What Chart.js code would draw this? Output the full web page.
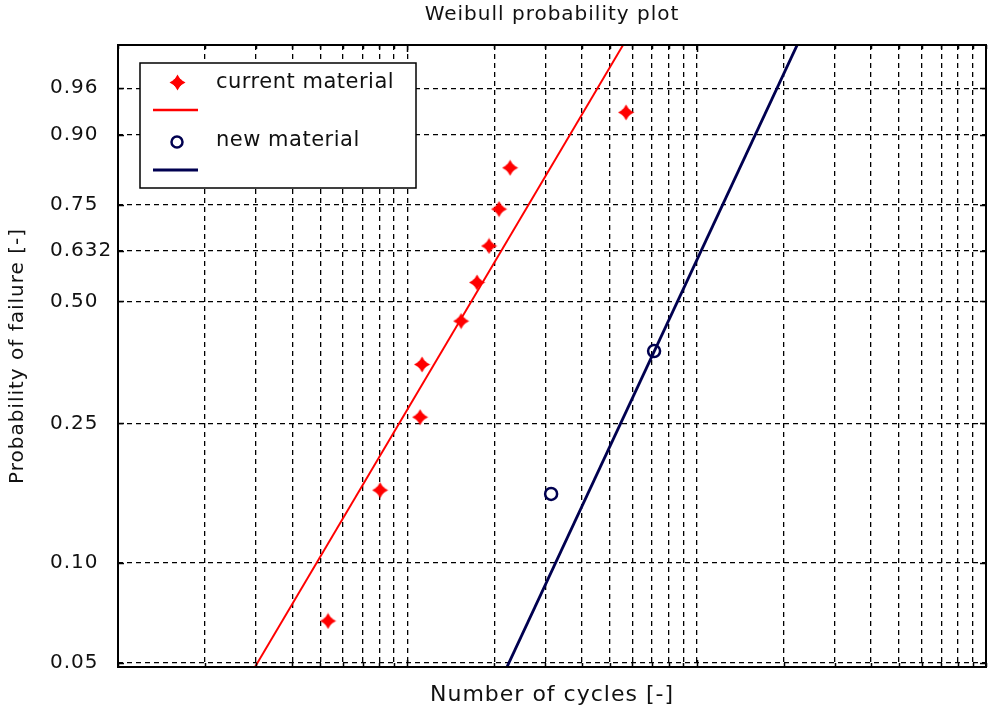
<!DOCTYPE html>
<html>
<head>
<meta charset="utf-8">
<title>Weibull probability plot</title>
<script src="https://cdn.jsdelivr.net/npm/chart.js@4/dist/chart.umd.min.js"></script>
<style>
  html, body { margin: 0; padding: 0; background: #fff; }
  #wrap { width: 988px; height: 713px; }
</style>
</head>
<body>
<div id="wrap"><canvas id="weibull-plot"></canvas></div>
<script>
// measured points (cycles to failure, median rank)
const currentCycles = [5320, 8050, 11070, 11240, 15340, 17410, 19160, 20750, 22650, 57000];
const currentProb = [0.067, 0.163, 0.260, 0.356, 0.452, 0.548, 0.644, 0.740, 0.837, 0.933];
const newCycles = [31400, 71250];
const newProb = [0.159, 0.384];

// fitted lines, end points read where they leave the plot
const currentFitCycles = [2976, 55660];
const currentFitProb = [0.0486, 0.9876];
const newFitCycles = [22110, 222400];
const newFitProb = [0.0486, 0.9876];

const probTicks = [0.05, 0.10, 0.25, 0.50, 0.632, 0.75, 0.90, 0.96];
const probTickLabels = ['0.05', '0.10', '0.25', '0.50', '0.632', '0.75', '0.90', '0.96'];
const cycleGridLines = [
  1000, 2000, 3000, 4000, 5000, 6000, 7000, 8000, 9000,
  10000, 20000, 30000, 40000, 50000, 60000, 70000, 80000, 90000,
  100000, 200000, 300000, 400000, 500000, 600000, 700000, 800000, 900000,
  1000000
];
const cycleMajor = [10000, 100000];

const red = '#ff0000';
const navy = '#000050';
const ink = '#111';
const fontFamily = '"DejaVu Sans", sans-serif';

// weibull paper: y = ln(-ln(1 - p))
function weibullY(p) {
  return Math.log(-Math.log(1 - p));
}

function toPoints(cycles, probs) {
  return cycles.map((c, i) => ({ x: c, y: weibullY(probs[i]) }));
}

function makeStar(color) {
  const c = document.createElement('canvas');
  c.width = 17;
  c.height = 17;
  const g = c.getContext('2d');
  g.fillStyle = color;
  g.beginPath();
  g.moveTo(8.5, 0.5);
  g.lineTo(11.5, 5.5);
  g.lineTo(16.5, 8.5);
  g.lineTo(11.5, 11.5);
  g.lineTo(8.5, 16.5);
  g.lineTo(5.5, 11.5);
  g.lineTo(0.5, 8.5);
  g.lineTo(5.5, 5.5);
  g.closePath();
  g.fill();
  g.beginPath();
  g.arc(8.5, 8.5, 4.6, 0, Math.PI * 2);
  g.fill();
  return c;
}

const starImg = makeStar(red);

const spacingPlugin = {
  id: 'spacing',
  beforeDraw(chart) {
    chart.ctx.letterSpacing = '1px';
  }
};

const framePlugin = {
  id: 'frame',
  afterDraw(chart) {
    const { ctx, chartArea, scales } = chart;
    const { left, right, top, bottom } = chartArea;
    ctx.save();
    ctx.strokeStyle = '#000';
    ctx.lineWidth = 1.5;
    ctx.beginPath();
    cycleGridLines.forEach(v => {
      const px = Math.round(scales.x.getPixelForValue(v)) + 0.5;
      const len = cycleMajor.includes(v) ? 7 : 4;
      ctx.moveTo(px, bottom);
      ctx.lineTo(px, bottom - len);
      ctx.moveTo(px, top);
      ctx.lineTo(px, top + len);
    });
    probTicks.forEach(p => {
      const py = Math.round(scales.y.getPixelForValue(weibullY(p))) + 0.5;
      ctx.moveTo(left, py);
      ctx.lineTo(left + 6, py);
      ctx.moveTo(right, py);
      ctx.lineTo(right - 6, py);
    });
    ctx.stroke();
    ctx.lineWidth = 2;
    ctx.strokeRect(left, top, right - left, bottom - top);
    drawLegend(ctx);
    ctx.restore();
  }
};

function drawLegend(ctx) {
  ctx.fillStyle = '#fff';
  ctx.fillRect(140, 63, 276, 125);
  ctx.lineWidth = 1.5;
  ctx.strokeStyle = '#000';
  ctx.strokeRect(140, 63, 276, 125);

  ctx.drawImage(starImg, 169, 74);
  ctx.strokeStyle = red;
  ctx.lineWidth = 2.5;
  ctx.beginPath();
  ctx.moveTo(153, 110);
  ctx.lineTo(198, 110);
  ctx.stroke();

  ctx.strokeStyle = navy;
  ctx.lineWidth = 2.5;
  ctx.beginPath();
  ctx.arc(177, 142, 5.5, 0, Math.PI * 2);
  ctx.stroke();
  ctx.lineWidth = 3;
  ctx.beginPath();
  ctx.moveTo(153, 170);
  ctx.lineTo(198, 170);
  ctx.stroke();

  ctx.letterSpacing = '0.5px';
  ctx.fillStyle = ink;
  ctx.font = '21px ' + fontFamily;
  ctx.textAlign = 'left';
  ctx.textBaseline = 'middle';
  ctx.fillText('current material', 216, 83);
  ctx.fillText('new material', 216, 141);
}

new Chart(document.getElementById('weibull-plot'), {
  type: 'scatter',
  data: {
    datasets: [
      {
        label: 'current material',
        data: toPoints(currentCycles, currentProb),
        pointStyle: starImg,
        pointRadius: 8,
        showLine: false
      },
      {
        label: 'current fit',
        data: toPoints(currentFitCycles, currentFitProb),
        showLine: true,
        borderColor: red,
        borderWidth: 2,
        pointRadius: 0
      },
      {
        label: 'new material',
        data: toPoints(newCycles, newProb),
        pointStyle: 'circle',
        pointRadius: 6,
        borderColor: navy,
        borderWidth: 2.5,
        backgroundColor: 'rgba(0,0,0,0)',
        showLine: false
      },
      {
        label: 'new fit',
        data: toPoints(newFitCycles, newFitProb),
        showLine: true,
        borderColor: navy,
        borderWidth: 2.8,
        pointRadius: 0
      }
    ]
  },
  options: {
    responsive: true,
    maintainAspectRatio: false,
    animation: false,
    events: [],
    // left padding puts the tick labels at x=50, the y title sits in it
    layout: { autoPadding: false, padding: { left: 50, right: 2, top: 0, bottom: 0 } },
    plugins: {
      legend: { display: false },
      tooltip: { enabled: false },
      title: {
        display: true,
        fullSize: false,
        text: 'Weibull probability plot',
        color: ink,
        font: { family: fontFamily, size: 20, weight: 'normal', lineHeight: 1.2 },
        padding: { top: 3, bottom: 18 }
      }
    },
    scales: {
      x: {
        type: 'logarithmic',
        min: 1000,
        max: 1000000,
        afterBuildTicks: scale => {
          scale.ticks = cycleGridLines.map(v => ({ value: v }));
        },
        afterFit: scale => {
          scale.height = 46;
          scale.paddingLeft = 0;
          scale.paddingRight = 0;
        },
        ticks: { display: false },
        grid: { color: '#000', lineWidth: 1.3, drawTicks: false },
        border: { display: false, dash: [5, 4] },
        title: {
          display: true,
          text: 'Number of cycles [-]',
          color: ink,
          font: { family: fontFamily, size: 22, lineHeight: 1.2 },
          padding: { top: 0, bottom: 5 }
        }
      },
      y: {
        type: 'linear',
        min: -3.0,
        max: 1.48,
        afterBuildTicks: scale => {
          scale.ticks = probTicks.map(p => ({ value: weibullY(p) }));
        },
        afterFit: scale => {
          scale.width = 68;
          scale.paddingTop = 0;
          scale.paddingBottom = 0;
        },
        ticks: {
          color: ink,
          font: { family: fontFamily, size: 20 },
          crossAlign: 'far',
          callback: (value, index) => probTickLabels[index]
        },
        grid: { color: '#000', lineWidth: 1.3, drawTicks: false },
        border: { display: false, dash: [5, 4] },
        title: {
          display: true,
          text: 'Probability of failure [-]',
          color: ink,
          font: { family: fontFamily, size: 20, lineHeight: 1.2 },
          padding: { top: -44, bottom: 0 }
        }
      }
    }
  },
  plugins: [spacingPlugin, framePlugin]
});
</script>
</body>
</html>
